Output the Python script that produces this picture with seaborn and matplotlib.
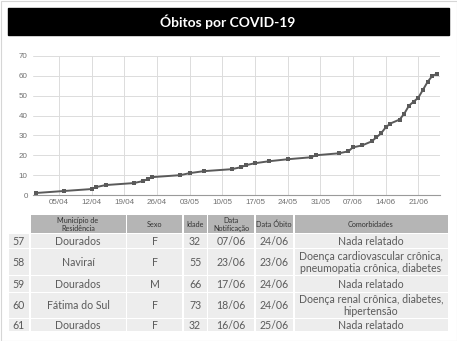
import matplotlib
matplotlib.use("Agg")
import matplotlib.pyplot as plt
import matplotlib.dates as mdates
from matplotlib.patches import Rectangle
import pandas as pd
import seaborn as sns

# Cumulative COVID-19 deaths by date (2020)
datas = ["31/03", "06/04", "12/04", "13/04", "15/04", "21/04", "23/04", "24/04",
         "25/04", "01/05", "03/05", "06/05", "12/05", "14/05", "15/05", "17/05",
         "20/05", "24/05", "29/05", "30/05", "04/06", "06/06", "07/06", "09/06",
         "11/06", "12/06", "13/06", "14/06", "15/06", "17/06", "18/06", "19/06",
         "20/06", "21/06", "22/06", "23/06", "24/06", "25/06"]
obitos = [1, 2, 3, 4, 5, 6, 7, 8,
          9, 10, 11, 12, 13, 14, 15, 16,
          17, 18, 19, 20, 21, 22, 24, 25,
          27, 29, 31, 34, 36, 38, 41, 45,
          47, 49, 53, 57, 60, 61]
y_ticks = [0, 10, 20, 30, 40, 50, 60, 70]

titulo = "Óbitos por COVID-19"

# Case table
cabecalho = ["", "Município de\nResidência", "Sexo", "Idade", "Data\nNotificação",
             "Data Óbito", "Comorbidades"]
numero = ["57", "58", "59", "60", "61"]
municipio = ["Dourados", "Naviraí", "Dourados", "Fátima do Sul", "Dourados"]
sexo = ["F", "F", "M", "F", "F"]
idade = ["32", "55", "66", "73", "32"]
notificacao = ["07/06", "23/06", "17/06", "18/06", "16/06"]
data_obito = ["24/06", "23/06", "24/06", "24/06", "25/06"]
comorbidades = ["Nada relatado",
                "Doença cardiovascular crônica,\npneumopatia crônica, diabetes",
                "Nada relatado",
                "Doença renal crônica, diabetes,\nhipertensão",
                "Nada relatado"]

sns.set_theme(style="white")
plt.rcParams["font.family"] = ["Lato", "DejaVu Sans"]

W, H = 457, 341
fig = plt.figure(figsize=(W / 100, H / 100), dpi=100)
fig.patch.set_facecolor("white")

# Canvas in pixel units for the banner and the table
bg = fig.add_axes([0, 0, 1, 1])
bg.set_xlim(0, W)
bg.set_ylim(H, 0)
bg.axis("off")
bg.add_patch(Rectangle((0.5, 0.5), W - 1, H - 1, fill=False, ec="#d6d6d6", lw=0.8))
bg.add_patch(Rectangle((7.5, 7.5), 441, 27.5, color="black"))
bg.text(228, 21.5, titulo, color="white", fontsize=10, fontweight="bold",
        ha="center", va="center")

# Line chart
df = pd.DataFrame({"data": pd.to_datetime([d + "/2020" for d in datas], format="%d/%m/%Y"),
                   "obitos": obitos})
ax = fig.add_axes([33.3 / W, 1 - 195 / H, (439.7 - 33.3) / W, (195 - 56) / H])
sns.lineplot(data=df, x="data", y="obitos", ax=ax, color="#5a5a5a", lw=1.4,
             marker="s", markersize=3.0, markeredgewidth=0, zorder=3)
ax.set_xlim(pd.Timestamp("2020-03-30 12:00"), pd.Timestamp("2020-06-25 14:00"))
ax.set_ylim(0, 70)
ax.set_yticks(y_ticks)
ax.xaxis.set_major_locator(mdates.WeekdayLocator(byweekday=mdates.SU))
ax.xaxis.set_major_formatter(mdates.DateFormatter("%d/%m"))
ax.grid(True, color="#dcdcdc", lw=0.7)
for s in ["top", "right", "left"]:
    ax.spines[s].set_visible(False)
ax.spines["bottom"].set_color("#9a9a9a")
ax.spines["bottom"].set_linewidth(0.8)
ax.tick_params(axis="both", length=0, labelsize=5.8, labelcolor="#707070")
ax.tick_params(axis="x", pad=3)
ax.tick_params(axis="y", pad=4)
for lab in ax.get_xticklabels() + ax.get_yticklabels():
    lab.set_family(["Liberation Sans", "DejaVu Sans"])
ax.set_xlabel("")
ax.set_ylabel("")

# Table layout in pixels
col_x = [(8, 29.5), (30, 126), (126.5, 182.5), (183, 207), (207.5, 254.5),
         (255, 293.5), (294, 448)]
head_y = (215, 233.5)
row_y = [(233.5, 248.5), (248.5, 275.5), (275.5, 292), (292, 318), (318, 331.5)]

for j, (x0, x1) in enumerate(col_x):
    if j > 0:
        bg.add_patch(Rectangle((x0 + 0.5, head_y[0]), x1 - x0 - 1, head_y[1] - head_y[0] - 0.5,
                               color="#b5b5b5", lw=0))
        bg.text((x0 + x1) / 2, sum(head_y) / 2, cabecalho[j], fontsize=5.2,
                color="#333333", ha="center", va="center", linespacing=1.1)

linhas = list(zip(numero, municipio, sexo, idade, notificacao, data_obito, comorbidades))
for i, (y0, y1) in enumerate(row_y):
    for j, (x0, x1) in enumerate(col_x):
        bg.add_patch(Rectangle((x0 + 0.5, y0 + 0.5), x1 - x0 - 1, y1 - y0 - 1,
                               color="#ededed", lw=0))
        bg.text((x0 + x1) / 2, (y0 + y1) / 2 + 0.3, linhas[i][j], fontsize=7.6,
                color="#5a5a5a", ha="center", va="center", linespacing=1.05)

fig.savefig("out.png", dpi=100, facecolor="white")
